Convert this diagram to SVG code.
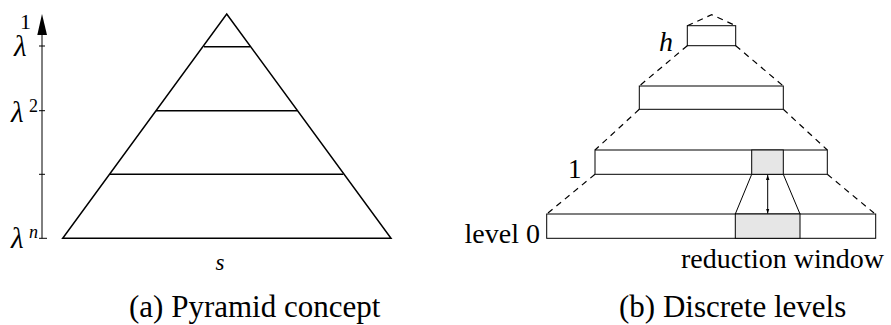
<svg xmlns="http://www.w3.org/2000/svg" width="891" height="325" viewBox="0 0 891 325">
<style>
text{font-family:'Liberation Serif','Times New Roman',Times,serif;fill:#000}
.it{font-style:italic}
.pyr{fill:none;stroke:#000;stroke-width:1.5}
.box{fill:#fff;stroke:#000;stroke-width:1}
.win{fill:#e6e6e6;stroke:#000;stroke-width:1}
.dash{fill:none;stroke:#000;stroke-width:1.2;stroke-dasharray:6 5}
.thin{fill:none;stroke:#000;stroke-width:1}
</style>
<defs>
<marker id="ah" viewBox="0 0 10 10" refX="10" refY="5" markerWidth="5" markerHeight="5" orient="auto-start-reverse" markerUnits="userSpaceOnUse">
<path d="M0,1.5 L10,5 L0,8.5 z" fill="#000"/>
</marker>
</defs>
<rect width="891" height="325" fill="#fff"/>

<g id="axis">
<line class="thin" x1="42" y1="238.3" x2="42" y2="30"/>
<path d="M42,14 L37.3,35 L47,35 z" fill="#000"/>
<line class="thin" x1="39" y1="46" x2="45" y2="46"/>
<line class="thin" x1="39" y1="110.7" x2="45" y2="110.7"/>
<line class="thin" x1="39" y1="174.3" x2="45" y2="174.3"/>
<line class="thin" x1="39" y1="238.3" x2="47" y2="238.3"/>
<text x="31" y="29" font-size="22" text-anchor="end">1</text>
<text class="it" x="14" y="56" font-size="29">λ</text>
<text class="it" x="11" y="122" font-size="29">λ</text>
<text x="29" y="112" font-size="18">2</text>
<text class="it" x="11" y="248" font-size="29">λ</text>
<text class="it" x="29" y="238" font-size="18">n</text>
</g>

<g id="pyramid">
<path class="pyr" d="M226.7,14 L391,238.3 L62.7,238.3 Z"/>
<line class="pyr" x1="204" y1="46.7" x2="250" y2="46.7"/>
<line class="pyr" x1="156" y1="110.7" x2="297.3" y2="110.7"/>
<line class="pyr" x1="110" y1="174.3" x2="343.3" y2="174.3"/>
<text class="it" x="220" y="270" font-size="23" text-anchor="middle">s</text>
</g>

<g id="connectors">
<path class="dash" d="M687.3,25.7 L711.7,14.7 L735.7,25.7"/>
<line class="dash" x1="687.3" y1="45.7" x2="639.3" y2="86"/>
<line class="dash" x1="735.7" y1="45.7" x2="783.3" y2="86"/>
<line class="dash" x1="639.3" y1="109.3" x2="595" y2="150"/>
<line class="dash" x1="783.3" y1="109.3" x2="827.3" y2="150"/>
<line class="dash" x1="595" y1="174.3" x2="548" y2="213"/>
<line class="dash" x1="827.3" y1="174.3" x2="874" y2="213"/>
<line class="thin" x1="751.7" y1="174.3" x2="735.3" y2="214"/>
<line class="thin" x1="783.3" y1="174.3" x2="800" y2="214"/>
<line class="thin" x1="767.7" y1="175" x2="767.7" y2="213.5" marker-start="url(#ah)" marker-end="url(#ah)"/>
</g>

<g id="level-h">
<rect class="box" x="687.3" y="25.7" width="48.4" height="20"/>
<text class="it" x="659" y="51" font-size="28">h</text>
</g>

<g id="level-2">
<rect class="box" x="639.3" y="86" width="144" height="23.3"/>
</g>

<g id="level-1">
<rect class="box" x="595" y="150" width="232.3" height="24.3"/>
<rect class="win" x="751.7" y="150" width="31.6" height="24.3"/>
<text x="568" y="177.7" font-size="27">1</text>
</g>

<g id="level-0">
<rect class="box" x="546.7" y="214" width="329" height="24.3"/>
<rect class="win" x="735.3" y="214" width="64.7" height="24.3"/>
<text x="540" y="243" font-size="28" text-anchor="end">level 0</text>
<text x="681" y="268" font-size="28">reduction window</text>
</g>

<g id="captions">
<text x="129" y="317" font-size="31">(a) Pyramid concept</text>
<text x="619" y="317" font-size="31">(b) Discrete levels</text>
</g>
</svg>
